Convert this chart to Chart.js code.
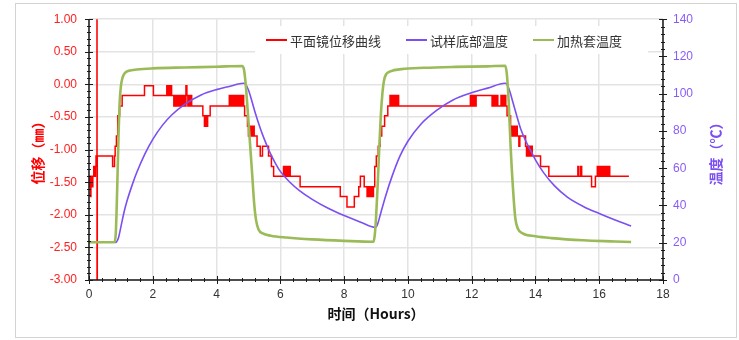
<!DOCTYPE html>
<html>
<head>
<meta charset="utf-8">
<script src="https://cdn.jsdelivr.net/npm/chart.js@4.4.1/dist/chart.umd.min.js"></script>
<style>
  html, body { margin: 0; padding: 0; background: #fff; }
  canvas { display: block; }
</style>
</head>
<body>
<canvas id="chart" width="739" height="340"></canvas>
<script>
// ---- series names and axis labels ----
const seriesNames = ['平面镜位移曲线', '试样底部温度', '加热套温度'];
const xTitle = '时间（Hours）';
const yLeftTitle = '位移（㎜）';
const yRightTitle = '温度（℃）';

// ---- mirror displacement (mm), stepped trace ----
const redTime = [
  0.00, 0.02, 0.04, 0.06, 0.08, 0.10, 0.12, 0.15, 0.18, 0.20, 0.22,
  0.25, 0.252, 0.26,
  0.74, 0.80, 0.82, 0.86, 0.90, 0.96, 1.04,
  1.74, 2.02,
  2.44, 2.47, 2.50, 2.53, 2.56, 2.59,
  2.66, 2.69, 2.72, 2.75, 2.78, 2.81, 2.84, 2.87, 2.90, 2.93, 2.96, 2.99, 3.02,
  3.04, 3.07, 3.10, 3.13, 3.16, 3.19, 3.22,
  3.57, 3.62, 3.65, 3.68, 3.72, 3.80,
  4.40, 4.43, 4.46, 4.49, 4.52, 4.55, 4.58, 4.61, 4.64, 4.67, 4.70, 4.73, 4.76, 4.79, 4.82, 4.85,
  4.88, 4.97, 5.00, 5.03, 5.06, 5.09, 5.12, 5.15, 5.18,
  5.27, 5.37, 5.44, 5.63, 5.72, 5.79,
  6.10, 6.13, 6.16, 6.19, 6.22, 6.25, 6.28, 6.31,
  6.62, 7.88, 8.09, 8.32, 8.46, 8.51, 8.63,
  8.72, 8.76, 8.80, 8.84, 8.88, 8.92,
  8.96, 9.01, 9.07, 9.13, 9.18, 9.27, 9.37,
  9.44, 9.47, 9.50, 9.53, 9.56, 9.59, 9.62, 9.65, 9.68, 9.71,
  11.96, 11.99, 12.02, 12.05, 12.08, 12.11, 12.14,
  12.64, 12.67, 12.70, 12.73, 12.76, 12.79, 12.82,
  12.92, 12.95, 12.98, 13.01, 13.04, 13.07,
  13.11, 13.22, 13.25, 13.28, 13.31, 13.34, 13.37, 13.40, 13.43,
  13.48, 13.51,
  13.69, 13.72, 13.75, 13.78, 13.81, 13.84, 13.87, 13.90,
  14.16, 14.42,
  15.33, 15.36, 15.42, 15.45, 15.76, 15.88,
  15.94, 15.97, 16.00, 16.03, 16.06, 16.09, 16.12, 16.15, 16.18, 16.21, 16.24, 16.27, 16.30, 16.33,
  16.93
];
const redDisp = [
  -1.57, -1.41, -1.72, -1.57, -1.41, -1.57, -1.41, -1.26, -1.41, -1.26, -1.10,
  1.00, -3.00, -1.10,
  -1.26, -1.10, -0.95, -0.79, -0.48, -0.33, -0.17,
  -0.02, -0.17,
  -0.02, -0.17, -0.02, -0.17, -0.02, -0.17,
  -0.33, -0.17, -0.33, -0.17, -0.33, -0.17, -0.33, -0.17, -0.33, -0.17, -0.33, -0.17, -0.33,
  -0.02, -0.17, -0.33, -0.17, -0.33, -0.17, -0.33,
  -0.48, -0.64, -0.48, -0.64, -0.48, -0.33,
  -0.17, -0.33, -0.17, -0.33, -0.17, -0.33, -0.17, -0.33, -0.17, -0.33, -0.17, -0.33, -0.17, -0.33, -0.17, -0.33,
  -0.48, -0.64, -0.79, -0.64, -0.79, -0.64, -0.79, -0.64, -0.79,
  -0.95, -1.10, -0.95, -1.10, -1.26, -1.41,
  -1.26, -1.41, -1.26, -1.41, -1.26, -1.41, -1.26, -1.41,
  -1.57, -1.72, -1.88, -1.72, -1.57, -1.41, -1.57,
  -1.72, -1.57, -1.72, -1.57, -1.72, -1.57,
  -1.26, -1.10, -0.95, -0.79, -0.64, -0.48, -0.33,
  -0.17, -0.33, -0.17, -0.33, -0.17, -0.33, -0.17, -0.33, -0.17, -0.33,
  -0.17, -0.33, -0.17, -0.33, -0.17, -0.33, -0.17,
  -0.33, -0.17, -0.33, -0.17, -0.33, -0.17, -0.33,
  -0.17, -0.33, -0.17, -0.33, -0.17, -0.33,
  -0.48, -0.64, -0.79, -0.64, -0.79, -0.64, -0.79, -0.64, -0.79,
  -0.95, -0.79,
  -0.95, -1.10, -0.95, -1.10, -0.95, -1.10, -0.95, -1.10,
  -1.26, -1.41,
  -1.26, -1.41, -1.26, -1.41, -1.57, -1.41,
  -1.26, -1.41, -1.26, -1.41, -1.26, -1.41, -1.26, -1.41, -1.26, -1.41, -1.26, -1.41, -1.26, -1.41,
  -1.41
];

// ---- sample bottom temperature (°C) ----
const sampleTime = [
  0.82, 0.87, 0.93, 1.00, 1.10, 1.20, 1.35, 1.50, 1.75, 2.00, 2.30, 2.60, 3.00, 3.50, 4.00, 4.40, 4.85,
  4.92, 5.00, 5.10, 5.20, 5.37, 5.50, 5.68, 5.85, 6.00, 6.30, 6.60, 7.00, 7.50, 8.00, 8.50, 8.98,
  9.05, 9.15, 9.30, 9.50, 9.75, 10.00, 10.40, 10.90, 11.40, 12.00, 12.50, 13.05,
  13.12, 13.20, 13.30, 13.40, 13.53, 13.70, 13.85, 14.00, 14.26, 14.60, 15.00, 15.50, 16.00, 16.50, 17.00
];
const sampleTemp = [
  20.0, 20.6, 23.0, 28.5, 36.5, 42.9, 50.8, 57.8, 67.6, 75.5, 83.0, 88.7, 94.3, 99.2, 102.2, 103.9, 105.6,
  104.8, 102.0, 96.5, 90.5, 81.5, 75.5, 68.2, 62.5, 58.3, 52.5, 48.0, 43.3, 38.5, 34.6, 31.2, 28.2,
  30.0, 36.0, 45.0, 55.5, 66.5, 74.5, 83.5, 91.0, 96.5, 100.5, 103.0, 105.6,
  104.6, 101.0, 95.0, 89.0, 81.5, 74.5, 69.5, 64.5, 57.5, 50.5, 44.5, 39.5, 35.7, 32.2, 29.0
];

// ---- heating jacket temperature (°C) ----
const heatTime = [
  0.00, 0.80, 0.84, 0.87, 0.90, 0.93, 0.96, 1.00, 1.05, 1.12, 1.25, 1.50, 2.00, 3.00, 4.00, 4.80,
  4.86, 4.92, 4.98, 5.05, 5.12, 5.18, 5.24, 5.32, 5.45, 5.70, 6.20, 7.00, 8.00, 8.92,
  8.96, 9.00, 9.05, 9.10, 9.15, 9.20, 9.25, 9.32, 9.45, 9.80, 10.50, 11.50, 12.50, 13.05,
  13.10, 13.16, 13.22, 13.30, 13.37, 13.45, 13.60, 14.00, 14.50, 15.50, 16.50, 17.00
];
const heatTemp = [
  20.3, 20.3, 25.0, 40.0, 60.0, 80.0, 95.0, 104.0, 108.5, 111.0, 112.3, 113.0, 113.6, 114.1, 114.5, 114.9,
  113.0, 104.0, 90.0, 73.0, 56.0, 41.0, 32.0, 27.0, 25.0, 23.8, 22.8, 21.8, 21.0, 20.5,
  24.0, 33.0, 50.0, 70.0, 88.0, 100.0, 107.0, 110.5, 112.0, 113.2, 113.9, 114.4, 114.7, 115.0,
  111.0, 96.0, 72.0, 48.0, 33.0, 27.5, 25.0, 23.5, 22.5, 21.3, 20.7, 20.4
];

// ---- axis ranges ----
const xRange = [0, 18];
const dispRange = [-3, 1];
const tempRange = [0, 140];

const RED = '#ff0000';
const PURPLE = '#7b4ff2';
const GREEN = '#9bbb59';
const TICK_FONT = { family: "'Liberation Sans', Arial, sans-serif", size: 12 };
const CJK = "'Noto Sans CJK SC', 'Liberation Sans', sans-serif";

const pairs = (xs, ys) => xs.map((x, i) => ({ x: x, y: ys[i] }));

// frame, legend box and the hand-drawn axis lines with major/minor ticks
const decorations = {
  id: 'decorations',
  beforeDraw(chart) {
    const { ctx, width, height } = chart;
    ctx.save();
    ctx.fillStyle = '#ffffff';
    ctx.fillRect(0, 0, width, height);
    ctx.strokeStyle = '#d3d3d3';
    ctx.lineWidth = 1;
    ctx.strokeRect(15.5, 3.5, 721, 334);
    ctx.restore();
  },
  beforeDatasetsDraw(chart) {
    const { ctx } = chart;
    ctx.save();
    ctx.fillStyle = '#ffffff';
    ctx.fillRect(255, 26, 393, 28);
    const items = [
      { text: seriesNames[0], color: RED, x: 266 },
      { text: seriesNames[1], color: PURPLE, x: 406 },
      { text: seriesNames[2], color: GREEN, x: 533 }
    ];
    ctx.font = "13px " + CJK;
    ctx.textBaseline = 'middle';
    ctx.textAlign = 'left';
    items.forEach(it => {
      ctx.strokeStyle = it.color;
      ctx.lineWidth = 2;
      ctx.beginPath();
      ctx.moveTo(it.x, 40);
      ctx.lineTo(it.x + 21, 40);
      ctx.stroke();
      ctx.fillStyle = '#333333';
      ctx.fillText(it.text, it.x + 24, 41);
    });
    ctx.restore();
  },
  afterDatasetsDraw(chart) {
    const { ctx, chartArea: a, scales } = chart;
    ctx.save();
    ctx.strokeStyle = '#1a1a1a';
    ctx.lineWidth = 1.5;
    ctx.beginPath();
    ctx.moveTo(a.left, a.top); ctx.lineTo(a.left, a.bottom);
    ctx.moveTo(a.right, a.top); ctx.lineTo(a.right, a.bottom);
    ctx.moveTo(a.left, a.bottom); ctx.lineTo(a.right, a.bottom);
    ctx.stroke();

    ctx.lineWidth = 1;
    ctx.beginPath();
    // left axis: major every 0.5, minor every 0.1
    for (let i = 0; i <= 40; i++) {
      const y = Math.round(scales.y.getPixelForValue(dispRange[0] + i * 0.1)) + 0.5;
      const len = i % 5 === 0 ? 4 : 2;
      ctx.moveTo(a.left - len, y); ctx.lineTo(a.left + len, y);
    }
    // right axis: major every 20, minor every 4
    for (let i = 0; i <= 35; i++) {
      const y = Math.round(scales.y1.getPixelForValue(i * 4)) + 0.5;
      const len = i % 5 === 0 ? 4 : 2;
      ctx.moveTo(a.right - len, y); ctx.lineTo(a.right + len, y);
    }
    // bottom axis: major every 2, minor every 0.4
    for (let i = 0; i <= 45; i++) {
      const x = Math.round(scales.x.getPixelForValue(i * 0.4)) + 0.5;
      const len = i % 5 === 0 ? 4 : 2;
      ctx.moveTo(x, a.bottom - len); ctx.lineTo(x, a.bottom + len);
    }
    ctx.stroke();

    // right axis title, read bottom-to-top like the left one
    ctx.translate(716, (a.top + a.bottom) / 2 + 1);
    ctx.rotate(-Math.PI / 2);
    ctx.font = "bold 14px " + CJK;
    ctx.fillStyle = PURPLE;
    ctx.textAlign = 'center';
    ctx.textBaseline = 'middle';
    ctx.fillText(yRightTitle, 0, 0);
    ctx.restore();
  }
};

new Chart(document.getElementById('chart'), {
  type: 'line',
  data: {
    datasets: [
      {
        label: seriesNames[0],
        data: pairs(redTime, redDisp),
        yAxisID: 'y',
        borderColor: RED,
        borderWidth: 1.5,
        stepped: 'before',
        pointRadius: 0,
        order: 3
      },
      {
        label: seriesNames[1],
        data: pairs(sampleTime, sampleTemp),
        yAxisID: 'y1',
        borderColor: PURPLE,
        borderWidth: 1.6,
        cubicInterpolationMode: 'monotone',
        pointRadius: 0,
        order: 2
      },
      {
        label: seriesNames[2],
        data: pairs(heatTime, heatTemp),
        yAxisID: 'y1',
        borderColor: GREEN,
        borderWidth: 2.6,
        cubicInterpolationMode: 'monotone',
        pointRadius: 0,
        order: 1
      }
    ]
  },
  options: {
    responsive: false,
    devicePixelRatio: 1,
    animation: false,
    events: [],
    layout: { padding: { top: 18, left: 0, right: 0, bottom: 0 } },
    plugins: {
      legend: { display: false },
      tooltip: { enabled: false }
    },
    scales: {
      x: {
        type: 'linear',
        min: xRange[0], max: xRange[1],
        border: { display: false },
        grid: { color: '#e3e3e3', lineWidth: 1.5, drawTicks: false },
        ticks: { stepSize: 2, padding: 7, color: '#333333', font: TICK_FONT, maxRotation: 0 },
        title: {
          display: true, text: xTitle, color: '#111111',
          font: { family: CJK, size: 14, weight: 'bold' },
          padding: { top: 0, bottom: 18 }
        },
        afterFit(s) { s.height = 60; }
      },
      y: {
        position: 'left',
        min: dispRange[0], max: dispRange[1],
        border: { display: false },
        grid: { color: '#e3e3e3', lineWidth: 1.5, drawTicks: false },
        ticks: { stepSize: 0.5, padding: 12, color: '#ff2020', font: TICK_FONT,
                 callback: v => Number(v).toFixed(2) },
        title: {
          display: true, text: yLeftTitle, color: RED,
          font: { family: CJK, size: 14, weight: 'bold' },
          padding: { top: 29, bottom: 0 }
        },
        afterFit(s) { s.width = 89; }
      },
      y1: {
        position: 'right',
        min: tempRange[0], max: tempRange[1],
        border: { display: false },
        grid: { display: false, drawTicks: false },
        ticks: { stepSize: 20, padding: 10, color: '#8a5cf7', font: TICK_FONT },
        afterFit(s) { s.width = 76; }
      }
    }
  },
  plugins: [decorations]
});
</script>
</body>
</html>
